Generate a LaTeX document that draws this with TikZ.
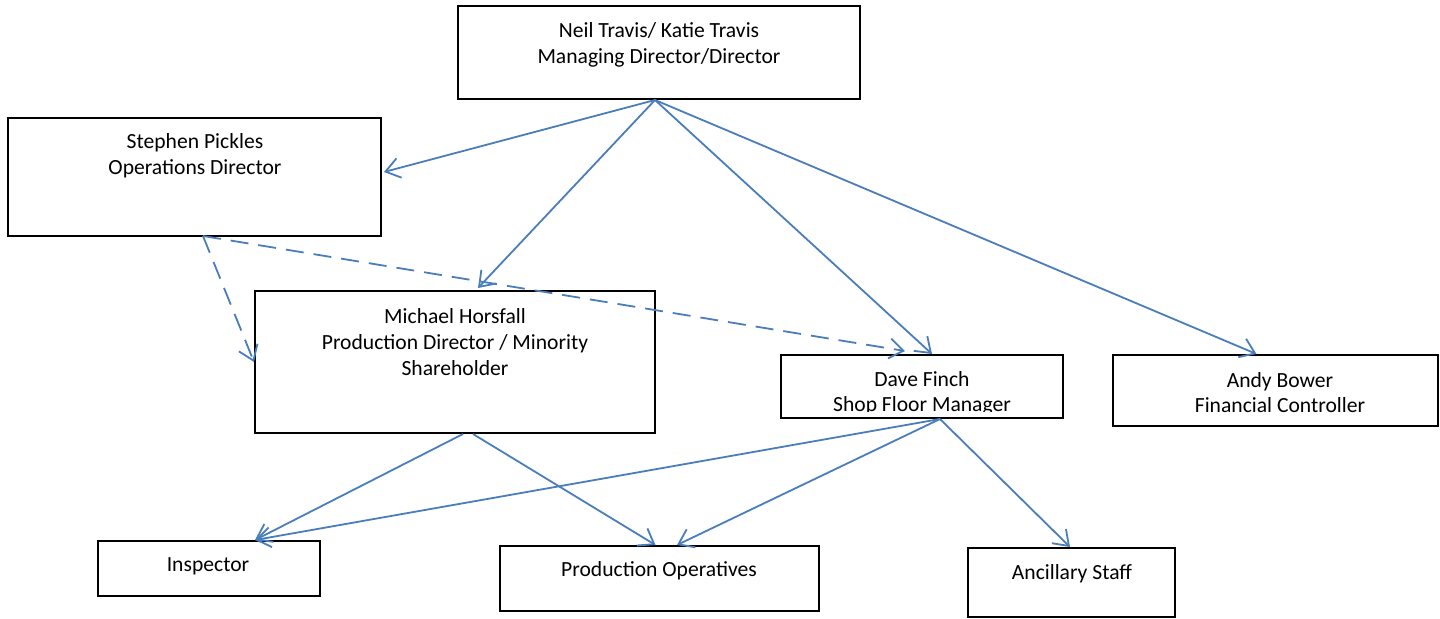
\documentclass[tikz,border=0pt]{standalone}
\usepackage{fontspec}
\setmainfont{Carlito}
\usetikzlibrary{arrows.meta,calc}
\definecolor{linkblue}{RGB}{74,126,187}
\begin{document}
\begin{tikzpicture}[x=0.5pt,y=-0.5pt,
  box/.style={draw,line width=1pt,inner sep=0pt},
  txt/.style={align=center,font=\fontsize{10.8}{12.8}\selectfont,inner sep=0pt},
  link/.style={draw=linkblue,line width=0.9pt,-{Straight Barb[length=7pt,width=10pt]}},
  dlink/.style={link,dash pattern=on 9pt off 5pt}]
\useasboundingbox (0,0) rectangle (1440,618);
% boxes
\node[box,minimum width=201pt,minimum height=46.5pt] (neil) at (659,52.5) {};
\node[txt] (neiltxt) at (659,45) {Neil Travis/ Katie Travis\\Managing Director/Director};
\node[box,minimum width=186.5pt,minimum height=59pt] (stephen) at (194.5,177) {};
\node[txt] (stephentxt) at (195,155.5) {Stephen Pickles\\Operations Director};
\node[box,minimum width=200pt,minimum height=71pt] (michael) at (455,362) {};
\node[txt] (michaeltxt) at (455,342) {Michael Horsfall\\Production Director / Minority\\Shareholder};
\node[box,minimum width=141pt,minimum height=31.5pt,
  path picture={
    \clip (path picture bounding box.north west) rectangle ($(path picture bounding box.south east)+(0,-7)$);
    \node[txt] (davetxt) at ($(path picture bounding box.center)+(0,7)$) {Dave Finch\\Shop Floor Manager};}] (dave) at (922,386.5) {};
\node[box,minimum width=162.5pt,minimum height=35.5pt] (andy) at (1275.5,390.5) {};
\node[txt] (andytxt) at (1280,392.5) {Andy Bower\\Financial Controller};
\node[box,minimum width=111pt,minimum height=27.5pt] (insp) at (209,568.5) {};
\node[txt] (insptxt) at (208,566) {Inspector};
\node[box,minimum width=159.5pt,minimum height=32.5pt] (prodops) at (659.5,578.5) {};
\node[txt] (prodopstxt) at (659,571) {Production Operatives};
\node[box,minimum width=103.5pt,minimum height=34.5pt] (ancil) at (1071.5,582.5) {};
\node[txt] (anciltxt) at (1072,574) {Ancillary Staff};
% connectors
\coordinate (neilout) at ($(neil.south)+(-4,0)$);
\coordinate (stephenout) at ($(stephen.south)+(8.5,-1)$);
\coordinate (michaelout) at (michael.south);
\coordinate (daveout) at ($(dave.south)+(18,0)$);
\draw[link] (neilout) -- ($(stephen.east)+(2,-5)$);
\draw[link] (neilout) -- ($(michael.north)+(23,-2)$);
\draw[link] (neilout) -- ($(dave.north)+(10,0)$);
\draw[link] (neilout) -- ($(andy.north)+(-19,0)$);
\draw[dlink] (stephenout) -- (michael.west);
\draw[dlink] (stephenout) -- ($(dave.north)+(-17,-3)$);
\draw[link] ($(michaelout)+(8,0)$) -- ($(insp.north)+(46,0)$);
\draw[link] ($(michaelout)+(18,0)$) -- ($(prodops.north)+(-4,0)$);
\draw[link] (daveout) -- ($(insp.north)+(46,0)$);
\draw[link] (daveout) -- ($(prodops.north)+(17.5,0)$);
\draw[link] (daveout) -- ($(ancil.north)+(-1.5,0)$);
\end{tikzpicture}
\end{document}
